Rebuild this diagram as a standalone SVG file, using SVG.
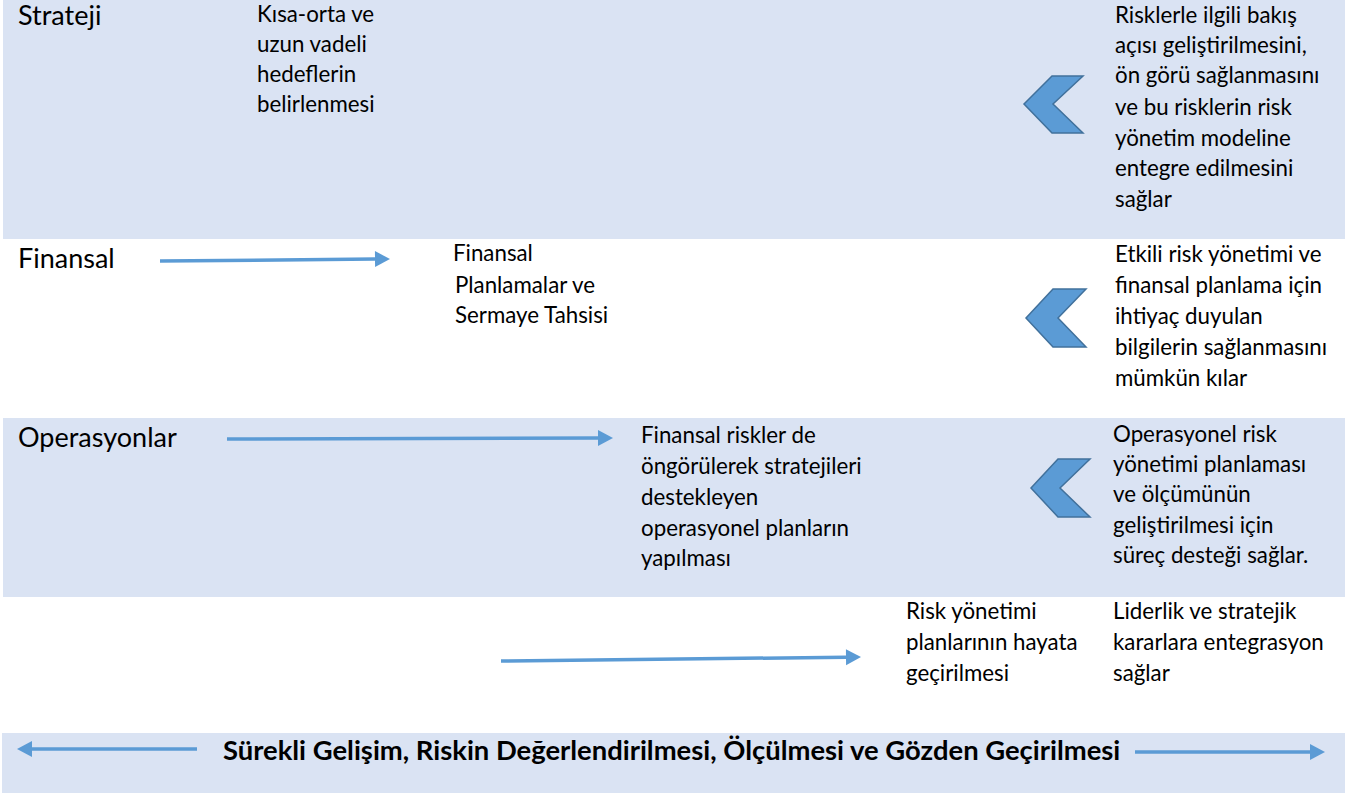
<svg xmlns="http://www.w3.org/2000/svg" width="1358" height="796" viewBox="0 0 1358 796">
<style>
.band{fill:#DAE3F3}
.title{font-family:Lato,"Liberation Sans",sans-serif;font-size:27px;fill:#000}
.body{font-family:Lato,"Liberation Sans",sans-serif;font-size:22.3px;fill:#000}
.bold{font-family:Lato,"Liberation Sans",sans-serif;font-size:27.4px;font-weight:bold;fill:#000}
.chev{fill:#5B9BD5;stroke:#41719C;stroke-width:1.5;stroke-linejoin:miter}
.conn{stroke:#5B9BD5;stroke-width:3.5;fill:none;marker-end:url(#ah)}
</style>
<defs>
<marker id="ah" markerUnits="userSpaceOnUse" markerWidth="16" markerHeight="16" refX="0" refY="8" orient="auto" overflow="visible">
<path d="M0,0 L15,8 L0,16 z" fill="#5B9BD5"/>
</marker>
</defs>
<rect width="1358" height="796" fill="#fff"/>
<g id="bands">
<rect class="band" x="3" y="0" width="1342" height="239"/>
<rect class="band" x="3" y="418" width="1342" height="179"/>
<rect class="band" x="2" y="733" width="1343" height="60"/>
</g>
<g id="strateji">
<text class="title" x="18" y="25">Strateji</text>
</g>
<g id="strateji-hedef">
<text class="body" x="257" y="22">Kısa-orta ve</text>
<text class="body" x="257" y="52">uzun vadeli</text>
<text class="body" x="257" y="82">hedeflerin</text>
<text class="body" x="257" y="112">belirlenmesi</text>
</g>
<g id="strateji-chevron">
<polygon class="chev" points="1052,76 1083,76 1053,104 1083,133 1052,133 1024,104"/>
</g>
<g id="strateji-fayda">
<text class="body" x="1115" y="23">Risklerle ilgili bakış</text>
<text class="body" x="1115" y="53">açısı geliştirilmesini,</text>
<text class="body" x="1115" y="83">ön görü sağlanmasını</text>
<text class="body" x="1115" y="115">ve bu risklerin risk</text>
<text class="body" x="1115" y="146">yönetim modeline</text>
<text class="body" x="1115" y="176">entegre edilmesini</text>
<text class="body" x="1115" y="207">sağlar</text>
</g>
<g id="finansal">
<text class="title" x="18" y="268">Finansal</text>
</g>
<g id="finansal-plan">
<text class="body" x="453" y="261">Finansal</text>
<text class="body" x="455" y="293">Planlamalar ve</text>
<text class="body" x="455" y="323">Sermaye Tahsisi</text>
</g>
<g id="finansal-chevron">
<polygon class="chev" points="1053,289 1086,289 1058,318 1086,347 1053,347 1026,318"/>
</g>
<g id="finansal-fayda">
<text class="body" x="1115" y="262">Etkili risk yönetimi ve</text>
<text class="body" x="1115" y="293">finansal planlama için</text>
<text class="body" x="1115" y="324">ihtiyaç duyulan</text>
<text class="body" x="1115" y="355">bilgilerin sağlanmasını</text>
<text class="body" x="1115" y="386">mümkün kılar</text>
</g>
<g id="operasyonlar">
<text class="title" x="18" y="447">Operasyonlar</text>
</g>
<g id="operasyonel-plan">
<text class="body" x="641" y="443">Finansal riskler de</text>
<text class="body" x="641" y="474">öngörülerek stratejileri</text>
<text class="body" x="641" y="505">destekleyen</text>
<text class="body" x="641" y="536">operasyonel planların</text>
<text class="body" x="641" y="566">yapılması</text>
</g>
<g id="operasyonlar-chevron">
<polygon class="chev" points="1058,459 1090,459 1060,488 1090,517 1058,517 1031,488"/>
</g>
<g id="operasyonlar-fayda">
<text class="body" x="1113" y="442">Operasyonel risk</text>
<text class="body" x="1113" y="472">yönetimi planlaması</text>
<text class="body" x="1113" y="502">ve ölçümünün</text>
<text class="body" x="1113" y="533">geliştirilmesi için</text>
<text class="body" x="1113" y="563">süreç desteği sağlar.</text>
</g>
<g id="uygulama">
<text class="body" x="906" y="619">Risk yönetimi</text>
<text class="body" x="906" y="650">planlarının hayata</text>
<text class="body" x="906" y="681">geçirilmesi</text>
</g>
<g id="liderlik">
<text class="body" x="1113" y="619">Liderlik ve stratejik</text>
<text class="body" x="1113" y="650">kararlara entegrasyon</text>
<text class="body" x="1113" y="681">sağlar</text>
</g>
<g id="surekli-gelisim">
<text class="bold" x="223" y="760">Sürekli Gelişim, Riskin Değerlendirilmesi, Ölçülmesi ve Gözden Geçirilmesi</text>
</g>
<g id="connectors">
<line class="conn" x1="160" y1="261" x2="375" y2="259.1"/>
<line class="conn" x1="227" y1="439" x2="598" y2="438"/>
<line class="conn" x1="501" y1="661" x2="846" y2="657.2"/>
<line class="conn" x1="197" y1="749" x2="32" y2="749"/>
<line class="conn" x1="1135" y1="752" x2="1310" y2="752"/>
</g>
</svg>
